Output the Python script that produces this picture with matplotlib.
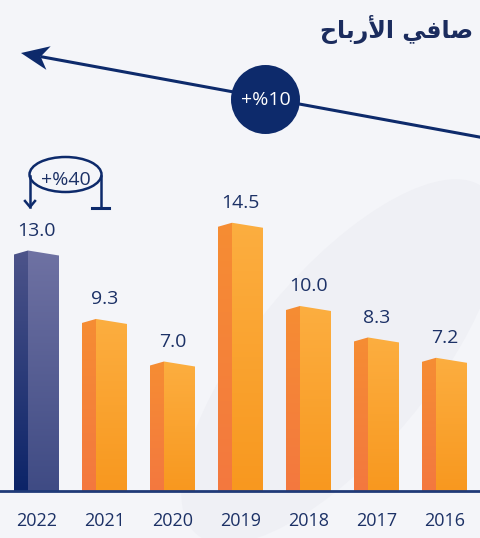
import numpy as np
import matplotlib.pyplot as plt
from matplotlib.patches import Polygon, Circle, Ellipse
from matplotlib.colors import LinearSegmentedColormap

# data
years = ['2022', '2021', '2020', '2019', '2018', '2017', '2016']
values = [13.0, 9.3, 7.0, 14.5, 10.0, 8.3, 7.2]
title = 'صافي الأرباح'
growth_total = '+%10'
growth_last = '+%40'

# matplotlib has no arabic shaping, so use presentation forms in visual order
title_visual = '\ufea1\ufe8e\ufe91\ufead\ufef7\ufe8d \ufef2\ufed3\ufe8e\ufebb'

navy = '#0d2a6b'
text_navy = '#1c3166'
bg = '#f4f5f9'

fig = plt.figure(figsize=(4.8, 5.38), dpi=100)
fig.patch.set_facecolor(bg)
ax = fig.add_axes([0, 0, 1, 1])
ax.set_facecolor(bg)
px_x = 68.0   # pixels per bar slot
px_y = 18.5   # pixels per unit
ax.set_xlim(-28 / px_x, (480 - 28) / px_x)
ax.set_ylim(-47 / px_y, (538 - 47) / px_y)
ax.axis('off')

# faint background shape
ax.add_patch(Ellipse((4.6, 7.0), 3.2, 20, angle=-10, color='#eff0f5', lw=0, zorder=0))

side_w = 14 / px_x
front_w = 31 / px_x
drop_side = 4 / px_y
drop_front = 5 / px_y

orange_front = LinearSegmentedColormap.from_list('of', ['#f8981f', '#fcae40'])
orange_side = LinearSegmentedColormap.from_list('os', ['#f3783f', '#f68d33'])
navy_front = LinearSegmentedColormap.from_list('nf', ['#3f4b84', '#6f72a3'])
navy_side = LinearSegmentedColormap.from_list('ns', ['#0c2468', '#4d548a'])

grad = np.linspace(0, 1, 256).reshape(-1, 1)


def face(poly_pts, cmap, top):
    poly = Polygon(poly_pts, closed=True, lw=0, facecolor='none', zorder=2)
    ax.add_patch(poly)
    xs = [p[0] for p in poly_pts]
    im = ax.imshow(grad, cmap=cmap, origin='lower', aspect='auto',
                   extent=[min(xs), max(xs), 0, top], zorder=2)
    im.set_clip_path(poly)


for i, (yr, v) in enumerate(zip(years, values)):
    if i == 0:
        fc, sc = navy_front, navy_side
    else:
        fc, sc = orange_front, orange_side
    # side face
    face([(i - side_w, 0), (i - side_w, v - drop_side), (i, v), (i, 0)], sc, v)
    # front face
    face([(i, 0), (i, v), (i + front_w, v - drop_front), (i + front_w, 0)], fc, v)
    cx = i + (front_w - side_w) / 2
    ax.annotate(f'{v:.1f}', (cx, v), xytext=(0, 10.5), textcoords='offset points',
                ha='center', va='baseline', fontsize=14, color=text_navy,
                family='Open Sans')
    ax.text(cx, -30 / px_y, yr, ha='center', va='center', fontsize=13,
            color=text_navy, family='Open Sans')

# baseline
ax.axhline(0, color='#1f3a78', lw=2, zorder=3)

# overlay axes in pixel units for the annotations
ax2 = fig.add_axes([0, 0, 1, 1], facecolor='none')
ax2.set_xlim(0, 480)
ax2.set_ylim(538, 0)
ax2.axis('off')

# title
ax2.text(473, 29, title_visual, ha='right', va='center', fontsize=17,
         fontweight='bold', color='#1b2c5e', family='DejaVu Sans')

# long arrow with notched head
tail = np.array([482, 137.5])
tip = np.array([21, 53])
u = (tail - tip) / np.linalg.norm(tail - tip)
n = np.array([-u[1], u[0]])
notch = tip + 20 * u
ax2.plot([tail[0], notch[0]], [tail[1], notch[1]], color=navy, lw=2.2, zorder=4,
         solid_capstyle='butt')
head = [tip, tip + 28 * u + 12 * n, notch, tip + 28 * u - 12 * n]
ax2.add_patch(Polygon(head, closed=True, facecolor=navy, edgecolor='none', zorder=4))

ax2.add_patch(Circle((265.5, 99.5), 34.5, facecolor=navy, edgecolor='none', zorder=5))
ax2.text(265.5, 100, growth_total, ha='center', va='center', fontsize=14,
         color='white', family='Open Sans', zorder=6)

# +%40 bracket above 2022
ax2.add_patch(Ellipse((65.5, 174.5), 72, 35, facecolor='none', edgecolor=navy, lw=1.8, zorder=5))
ax2.plot([30, 30], [176, 207], color=navy, lw=1.8, zorder=5)
ax2.plot([25, 30, 35], [201, 207, 201], color=navy, lw=1.8, zorder=5)
ax2.plot([101, 101], [176, 208], color=navy, lw=1.8, zorder=5)
ax2.plot([91.5, 109], [208, 208], color=navy, lw=2.2, zorder=5)
ax2.text(65.5, 180, growth_last, ha='center', va='center', fontsize=14,
         color=text_navy, family='Open Sans', zorder=6)

fig.savefig('out.png', dpi=100, facecolor=bg)
